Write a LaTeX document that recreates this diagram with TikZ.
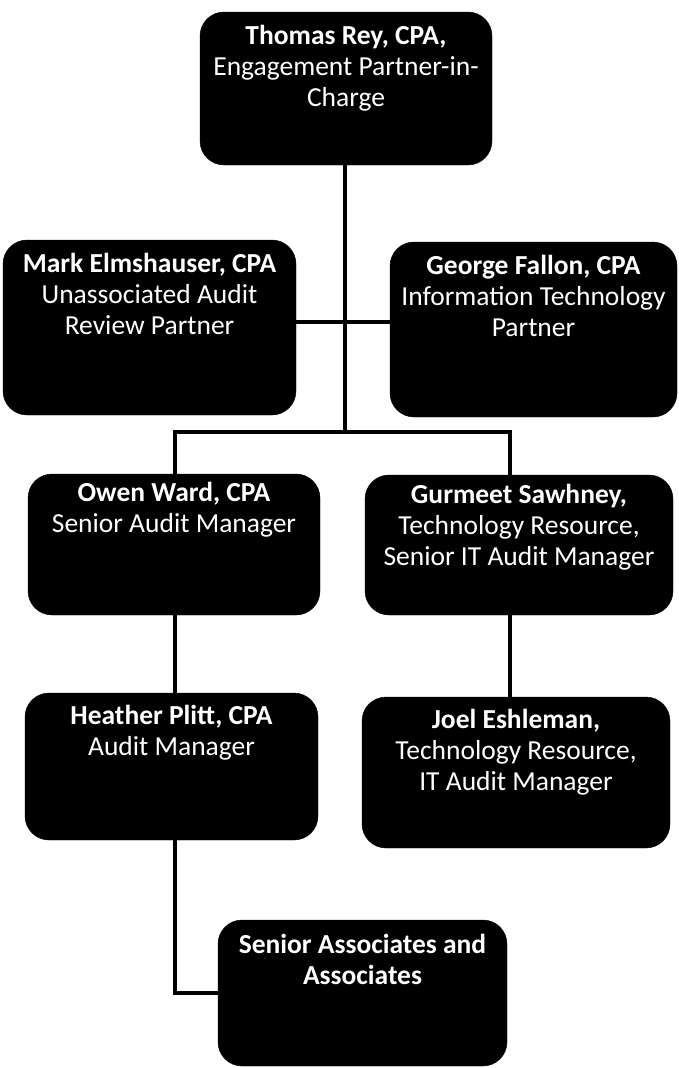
\documentclass[tikz,border=0pt]{standalone}
\usepackage{fontspec}
\setmainfont{Carlito}
\begin{document}
\begin{tikzpicture}[x=1pt,y=-1pt,
  orgbox/.style={draw=black,fill=black,rounded corners=24pt,inner sep=0pt},
  lbl/.style={text=white,align=center,anchor=north,inner sep=0pt,
    font=\fontsize{27.5}{31}\selectfont},
  conn/.style={line width=4.8pt}]
\useasboundingbox (0,0) rectangle (678,1068);
% boxes
\node[orgbox,minimum width=292pt,minimum height=153pt] (top) at (346,88.5) {};
\node[orgbox,minimum width=293pt,minimum height=175pt] (mark) at (149.5,327.5) {};
\node[orgbox,minimum width=287pt,minimum height=175pt] (george) at (533.5,329.5) {};
\node[orgbox,minimum width=292pt,minimum height=141pt] (owen) at (174,544.5) {};
\node[orgbox,minimum width=308pt,minimum height=140pt] (gurm) at (519,545) {};
\node[orgbox,minimum width=293pt,minimum height=147pt] (heather) at (171.5,766.5) {};
\node[orgbox,minimum width=308pt,minimum height=151pt] (joel) at (516,772.5) {};
\node[orgbox,minimum width=289pt,minimum height=146pt] (senior) at (362.5,993) {};
% labels
\node[lbl] (ttop) at ([yshift=-13pt]top.north) {\textbf{Thomas Rey, CPA,}\\Engagement Partner-in-\\Charge};
\node[lbl] (tmark) at ([yshift=-13pt]mark.north) {\textbf{Mark Elmshauser, CPA}\\Unassociated Audit\\Review Partner};
\node[lbl] (tgeorge) at ([yshift=-13pt]george.north) {\textbf{George Fallon, CPA}\\Information Technology\\Partner};
\node[lbl] (towen) at ([yshift=-8pt]owen.north) {\textbf{Owen Ward, CPA}\\Senior Audit Manager};
\node[lbl] (tgurm) at ([yshift=-9pt]gurm.north) {\textbf{Gurmeet Sawhney,}\\Technology Resource,\\Senior IT Audit Manager};
\node[lbl] (theather) at ([yshift=-12pt]heather.north) {\textbf{Heather Plitt, CPA}\\Audit Manager};
\node[lbl] (tjoel) at ([yshift=-12pt]joel.north) {\textbf{Joel Eshleman,}\\Technology Resource,\\IT Audit Manager};
\node[lbl] (tsenior) at ([yshift=-14pt]senior.north) {\textbf{Senior Associates and}\\\textbf{Associates}};
% connector coordinates
\coordinate (mid) at (345,322);
\coordinate (bar) at (345,432);
\coordinate (lx) at (175,0);
\coordinate (rx) at (510,0);
\coordinate (low) at (175,993);
% connectors
\draw[conn] (top.south -| bar) -- (bar);
\draw[conn] (mark.east |- mid) -- (george.west |- mid);
\draw[conn] (lx |- owen.north) -- (lx |- bar) -- (rx |- bar) -- (rx |- gurm.north);
\draw[conn] (lx |- owen.south) -- (lx |- heather.north);
\draw[conn] (rx |- gurm.south) -- (rx |- joel.north);
\draw[conn] (lx |- heather.south) -- (low) -- (senior.west |- low);
\end{tikzpicture}
\end{document}
